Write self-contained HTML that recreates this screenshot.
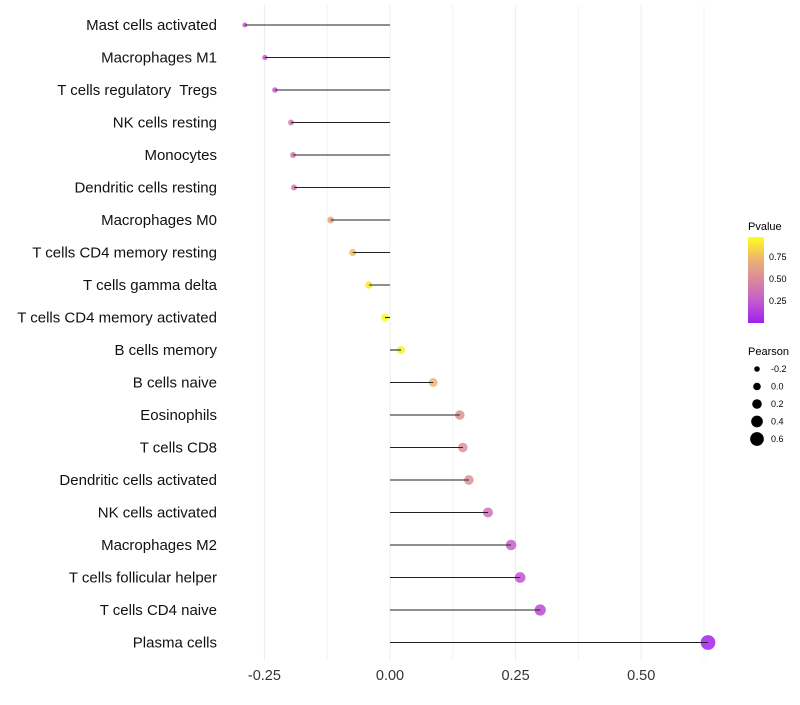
<!DOCTYPE html>
<html><head><meta charset="utf-8"><style>
body{margin:0;background:#fff;font-family:"Liberation Sans",sans-serif}
text{white-space:pre}
</style></head><body>
<svg id="c" width="800" height="700" xmlns="http://www.w3.org/2000/svg">
<defs><linearGradient id="pg" x1="0" y1="1" x2="0" y2="0">
<stop offset="0" stop-color="#a01ef0"/><stop offset="0.25" stop-color="#c45ad0"/><stop offset="0.5" stop-color="#d9889e"/><stop offset="0.75" stop-color="#eeb56e"/><stop offset="1" stop-color="#ffff1a"/></linearGradient></defs>
<g id="grid"></g><g id="marks"></g><g id="stems"></g><g id="labels"></g>
<g>
<text x="748" y="230" font-size="11">Pvalue</text>
<rect x="748" y="237" width="16" height="86" fill="url(#pg)"/>
<text x="769" y="260" font-size="9">0.75</text><text x="769" y="282" font-size="9">0.50</text><text x="769" y="304" font-size="9">0.25</text>
</g>
<g id="sizeleg"><text x="748" y="355" font-size="11">Pearson</text></g>
</svg>
<script>
const cats=["Mast cells activated","Macrophages M1","T cells regulatory  Tregs","NK cells resting","Monocytes","Dendritic cells resting","Macrophages M0","T cells CD4 memory resting","T cells gamma delta","T cells CD4 memory activated","B cells memory","B cells naive","Eosinophils","T cells CD8","Dendritic cells activated","NK cells activated","Macrophages M2","T cells follicular helper","T cells CD4 naive","Plasma cells"];
const pearson=[-0.289,-0.249,-0.229,-0.197,-0.193,-0.191,-0.118,-0.074,-0.042,-0.01,0.022,0.086,0.139,0.145,0.157,0.195,0.241,0.259,0.299,0.633];
const pvals=[0.25,0.25,0.28,0.42,0.42,0.42,0.65,0.78,0.92,0.99,0.95,0.75,0.55,0.55,0.55,0.38,0.28,0.22,0.18,0.02];
const xTicks=[-0.25,0,0.25,0.5];
const xTickLabels=["-0.25","0.00","0.25","0.50"];
const sizeLegend=[-0.2,0,0.2,0.4,0.6];
const NS="http://www.w3.org/2000/svg";
const X=v=>390+v*502.4, Y=i=>25+i*32.5, R=v=>Math.max(2,4+v*5.3);
const stops=[[0,[160,30,240]],[0.25,[196,90,208]],[0.5,[217,136,158]],[0.75,[238,181,110]],[1,[255,255,26]]];
function col(p){for(let k=1;k<stops.length;k++){if(p<=stops[k][0]){const a=stops[k-1],b=stops[k],t=(p-a[0])/(b[0]-a[0]);return "rgb("+a[1].map((c,j)=>Math.round(c+(b[1][j]-c)*t)).join(",")+")";}}return "rgb(255,255,26)";}
function mk(t,a,p){const e=document.createElementNS(NS,t);for(const k in a)e.setAttribute(k,a[k]);p.appendChild(e);return e;}
const g=document.getElementById("grid"),m=document.getElementById("marks"),st=document.getElementById("stems"),l=document.getElementById("labels");
xTicks.forEach((v,i)=>{
 const ln=mk("line",{x1:X(v),x2:X(v),y1:5,y2:660,stroke:"#ebebeb","stroke-width":1},g);
 
 
 const mn=mk("line",{x1:X(v+0.125),x2:X(v+0.125),y1:5,y2:660,stroke:"#f3f3f3","stroke-width":1},g);
 
 
 const t=mk("text",{x:X(v),y:680,"font-size":14.5,"text-anchor":"middle",fill:"#333"},l);t.textContent=xTickLabels[i];
 
 
});
cats.forEach((c,i)=>{
 const d=mk("circle",{cx:X(pearson[i]),cy:Y(i),r:R(pearson[i]),fill:col(pvals[i]),"fill-opacity":0.85},m);
 
 
 const s=mk("line",{x1:X(0),x2:X(pearson[i]),y1:Y(i),y2:Y(i),stroke:"#222","stroke-width":1.1},st);
 
 
 const t=mk("text",{x:217,y:Y(i)+5,"font-size":15,"text-anchor":"end",fill:"#111"},l);t.textContent=c;
 
 
});
const sl=document.getElementById("sizeleg");
sizeLegend.forEach((v,i)=>{
 const y=369+i*17.5;
 const d=mk("circle",{cx:757,cy:y,r:R(v)*0.95,fill:"#000"},sl);
 
 
 const t=mk("text",{x:771,y:y+3,"font-size":9},sl);t.textContent=v.toFixed(1);
 
 
});
</script>
</body></html>
